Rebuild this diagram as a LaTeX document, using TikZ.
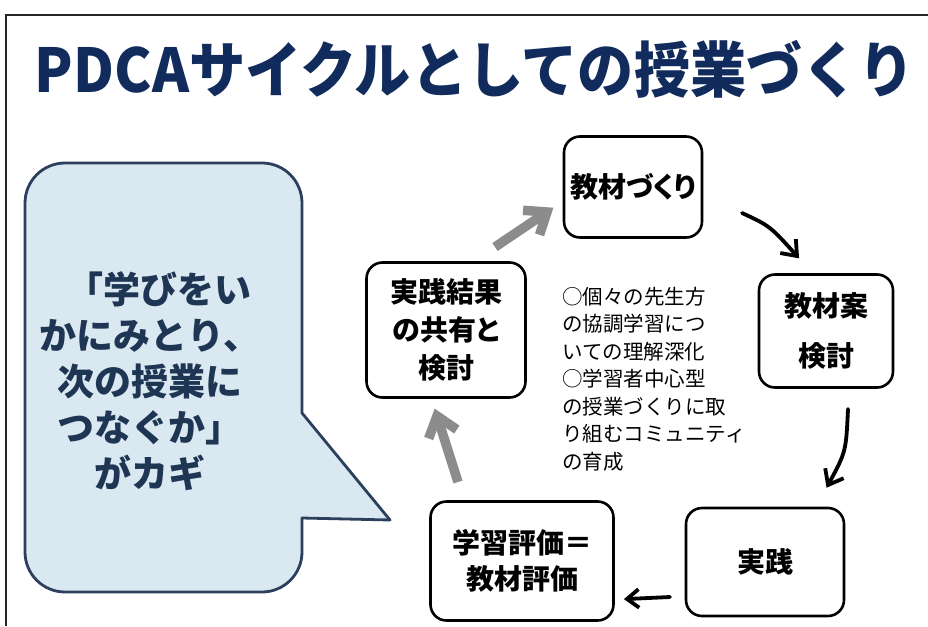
\documentclass[tikz,border=0pt]{standalone}
\usepackage{fontspec}
\newfontfamily\jp{Noto Sans CJK JP}
\newfontfamily\jpp[RawFeature=+palt]{Noto Sans CJK JP}
\usetikzlibrary{calc}
\definecolor{navy}{HTML}{102B5C}
\definecolor{bubfill}{HTML}{DAE8F1}
\definecolor{bubline}{HTML}{2C405E}
\definecolor{bubtext}{HTML}{1E3653}
\definecolor{arrgray}{HTML}{8C8C8C}
\newcommand\barbtip[4]{\draw[#1, line join=miter, line cap=butt] ($(#2)!#4!38:(#3)$) -- (#2) -- ($(#2)!#4!-38:(#3)$);}
\begin{document}
\begin{tikzpicture}[x=1pt,y=-1pt,
  stagebox/.style={draw=black, line width=2.6pt, rounded corners=16pt, fill=white, inner sep=0pt, align=center, font=\jpp\bfseries\fontsize{28}{38}\selectfont},
  blackarrow/.style={draw=black, line width=3.8pt},
  grayarrow/.style={draw=arrgray, line width=9.5pt},
  frameline/.style={line width=2pt, draw=black!85},
  bubble/.style={draw=bubline, fill=bubfill, line width=2.8pt, line join=round}
]
\useasboundingbox (0,0) rectangle (928,626);
\fill[white] (0,0) rectangle (928,626);
% outer frame
\draw[frameline] (6,626) -- (6,15) -- (928,15);
% title
\node[text=navy, inner sep=0pt] (title) at (475,69) {\resizebox*{880pt}{58pt}{\jp\bfseries PDCAサイクルとしての授業づくり}};
% speech bubble
\draw[bubble] (302,413) -- (390,520) -- (302,518) -- (302,530) [rounded corners=40pt] -- (302,592) -- (25,592) -- (25,163) -- (302,163) [sharp corners] -- (302,400) -- cycle;
\node[text=bubtext, align=center, inner sep=0pt, font=\jp\bfseries\fontsize{37}{46}\selectfont] (key) at (150,381)
  {\hspace*{0.5em}「学びをい\\かにみとり、\\次の授業に\\つなぐか」\\がカギ};
% stages
\node[stagebox, minimum width=138pt, minimum height=101pt] (plan) at (633,187) {教材づくり};
\node[stagebox, minimum width=134pt, minimum height=113pt, font=\jpp\bfseries\fontsize{28}{50}\selectfont] (review) at (826,331) {教材案\\検討};
\node[stagebox, minimum width=158pt, minimum height=108pt] (do) at (765,562) {実践};
\node[stagebox, minimum width=183pt, minimum height=119pt, font=\jpp\bfseries\fontsize{28}{36}\selectfont] (eval) at (522,561) {学習評価＝\\教材評価};
\node[stagebox, minimum width=159pt, minimum height=135pt] (share) at (446,330) {実践結果\\の共有と\\検討};
% centre note
\node[anchor=north west, align=left, inner sep=0pt, font=\jp\fontsize{20.5}{27.5}\selectfont] (note) at (562,287)
  {○個々の先生方\\の協調学習につ\\いての理解深化\\○学習者中心型\\の授業づくりに取\\り組むコミュニティ\\の育成};
% arrows
\coordinate (g1s) at (495,247);
\coordinate (g1e) at (547,212);
\coordinate (b1s) at (742,213);
\coordinate (b1c) at (770,226);
\coordinate (b1e) at (797,256);
\coordinate (b2s) at (848,409);
\coordinate (b2c) at (846,452);
\coordinate (b2e) at (828,485);
\coordinate (b3s) at (670,597);
\coordinate (b3e) at (627,599);
\coordinate (g2s) at (458,482);
\coordinate (g2e) at (437,416);
\draw[grayarrow] (g1s) -- (g1e);
\barbtip{grayarrow}{g1e}{g1s}{24pt}
\draw[blackarrow, line cap=round] (b1s) .. controls (b1c) .. (b1e);
\barbtip{blackarrow}{b1e}{b1c}{17pt}
\draw[blackarrow, line cap=round] (b2s) .. controls (b2c) .. (b2e);
\barbtip{blackarrow}{b2e}{b2c}{17pt}
\draw[blackarrow, line cap=round] (b3s) -- (b3e);
\barbtip{blackarrow}{b3e}{b3s}{15pt}
\draw[grayarrow] (g2s) -- (g2e);
\barbtip{grayarrow}{g2e}{g2s}{24pt}
\end{tikzpicture}
\end{document}
